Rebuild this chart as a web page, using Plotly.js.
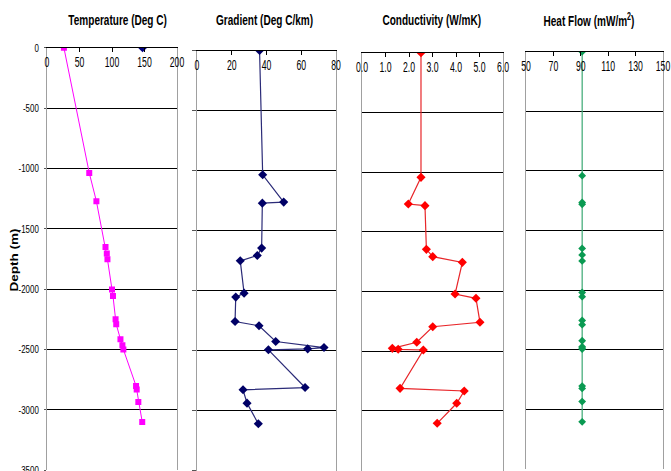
<!DOCTYPE html>
<html>
<head>
<meta charset="utf-8">
<script src="https://cdn.plot.ly/plotly-3.0.1.min.js"></script>
<style>html,body{margin:0;padding:0;background:#fff;}#chart{width:671px;height:471px;}</style>
</head>
<body>
<div id="chart"></div>
<script>
// Temperature log
const tempDepth = [0, -1037, -1272, -1650, -1705, -1752, -2003, -2056, -2250, -2291, -2415, -2465, -2500, -2802, -2832, -2934, -3100];
const tempValue = [26, 65, 76, 90, 92, 93, 100, 101.5, 105.5, 106.5, 113, 116, 117.5, 137, 138, 140.5, 146.5];
// Bottom-hole marker on temperature panel
const bhtDepth = [0];
const bhtValue = [147];
// Gradient
const gradDepth = [0, -1035, -1262, -1271, -1645, -1707, -1751, -2020, -2053, -2256, -2292, -2423, -2473, -2484, -2492, -2806, -2825, -2936, -3108];
const gradValue = [36, 37.8, 49.9, 37.6, 37.2, 34.7, 24.9, 27.1, 22.3, 21.9, 35.7, 45.3, 73.1, 63.7, 41.1, 62.2, 26.5, 28.8, 35.3];
// Conductivity
const condDepth = [0, -1044, -1267, -1281, -1647, -1708, -1756, -2021, -2057, -2258, -2295, -2425, -2476, -2484, -2490, -2811, -2833, -2936, -3104];
const condValue = [2.51, 2.51, 1.97, 2.68, 2.74, 3.01, 4.27, 3.96, 4.85, 5.02, 3.01, 2.33, 1.29, 1.54, 2.61, 1.62, 4.35, 4.03, 3.20];
// Heat flow
const hfDepth = [0, -1040, -1265, -1280, -1650, -1705, -1755, -2020, -2055, -2255, -2290, -2425, -2475, -2485, -2495, -2805, -2825, -2935, -3105];
const hfValue = [91, 91, 91, 91, 91, 91, 91, 91, 91, 91, 91, 91, 91, 91, 91, 91, 91, 91, 91];

// Axis tick labels
const depthTicks = [0, -500, -1000, -1500, -2000, -2500, -3000, -3500];
const depthTickText = ["0", "-500", "-1000", "-1500", "-2000", "-2500", "-3000", "-3500"];
const tempTicks = [0, 50, 100, 150, 200];
const gradTicks = [0, 20, 40, 60, 80];
const condTicks = [0, 1, 2, 3, 4, 5, 6];
const condTickText = ["0.0", "1.0", "2.0", "3.0", "4.0", "5.0", "6.0"];
const hfTicks = [50, 70, 90, 110, 130, 150];

const titles = ["Temperature (Deg C)", "Gradient (Deg C/km)", "Conductivity (W/mK)", "Heat Flow (mW/m<sup>2</sup>)"];
const yTitle = "Depth (m)";

const FONT = "Liberation Sans, Arial, sans-serif";
const W = 671, H = 471;
const px = v => v / W;
const py = v => 1 - v / H;

const traces = [
  {x: tempValue, y: tempDepth, xaxis: 'x', yaxis: 'y', mode: 'lines+markers',
   line: {color: '#FF00FF', width: 1}, marker: {symbol: 'square', size: 6, color: '#FF00FF'}},
  {x: bhtValue, y: bhtDepth, xaxis: 'x', yaxis: 'y', mode: 'markers',
   marker: {symbol: 'diamond', size: 7, color: '#000080'}},
  {x: gradValue, y: gradDepth, xaxis: 'x2', yaxis: 'y2', mode: 'lines+markers',
   line: {color: '#2B2B78', width: 1.2}, marker: {symbol: 'diamond', size: 7, color: '#000066'}},
  {x: condValue, y: condDepth, xaxis: 'x3', yaxis: 'y3', mode: 'lines+markers',
   line: {color: '#E8262A', width: 1.2}, marker: {symbol: 'diamond', size: 7, color: '#FF0000'}},
  {x: hfValue, y: hfDepth, xaxis: 'x4', yaxis: 'y4', mode: 'lines+markers',
   line: {color: '#3BA873', width: 1.2}, marker: {symbol: 'diamond', size: 6, color: '#0A9A52'}}
];

const panels = [
  {x: [47, 177], y: [47.7, 470.2], range: [0, 200], vals: tempTicks, text: tempTicks.map(String)},
  {x: [197, 336], y: [50.5, 470.9], range: [0, 80], vals: gradTicks, text: gradTicks.map(String)},
  {x: [362, 503], y: [52.7, 470.6], range: [0, 6], vals: condTicks, text: condTickText},
  {x: [526, 663], y: [51.7, 468.9], range: [50, 150], vals: hfTicks, text: hfTicks.map(String)}
];

const layout = {
  width: W, height: H,
  margin: {l: 0, r: 0, t: 0, b: 0},
  paper_bgcolor: '#fff', plot_bgcolor: '#fff',
  showlegend: false,
  font: {family: FONT, size: 12, color: '#000'},
  annotations: []
};

const titleCenters = [117, 264, 432, 589];
panels.forEach((p, i) => {
  const n = i === 0 ? '' : String(i + 1);
  layout['xaxis' + n] = {
    domain: [px(p.x[0]), px(p.x[1])],
    anchor: 'y' + n,
    side: 'top',
    range: p.range, tickmode: 'array', tickvals: p.vals, ticktext: p.text,
    showgrid: false, zeroline: false,
    showline: true, linecolor: '#000', linewidth: 1,
    ticks: 'inside', ticklen: 4, tickcolor: '#000',
    ticklabelposition: 'inside', ticklabeloverflow: 'allow',
    ticklabelstandoff: 5,
    tickfont: {family: FONT, size: 14.5, color: '#000'},
    fixedrange: true
  };
  layout['yaxis' + n] = {
    domain: [py(p.y[1]), py(p.y[0])],
    anchor: 'x' + n,
    range: [-3500, 0], tickmode: 'array', tickvals: depthTicks, ticktext: depthTickText,
    showgrid: true, gridcolor: '#000', gridwidth: 1,
    zeroline: false,
    showline: true, mirror: true, linecolor: '#A0A0A0', linewidth: 1,
    showticklabels: i === 0,
    ticks: (i === 0 || i === 1) ? 'outside' : '',
    ticklen: i === 0 ? 2 : 4, tickcolor: '#555',
    ticklabelstandoff: 3, ticklabeloverflow: 'allow',
    tickfont: {family: FONT, size: 11, color: '#000'},
    fixedrange: true
  };
  layout.annotations.push({
    text: '<b>' + titles[i] + '</b>', xref: 'paper', yref: 'paper',
    x: px(titleCenters[i]), y: py(20), xanchor: 'center', yanchor: 'middle',
    showarrow: false, font: {family: FONT, size: 15, color: '#000'}
  });
});

layout.annotations.push({
  text: '<b>' + yTitle + '</b>', xref: 'paper', yref: 'paper',
  x: px(13.5), y: py(260), xanchor: 'center', yanchor: 'middle', textangle: -90,
  showarrow: false, font: {family: FONT, size: 13.5, color: '#000'}
});

// The reference text is horizontally condensed; squeeze glyphs about their anchor.
function squeezeX(el, k) {
  const x = parseFloat(el.getAttribute('x')) || 0;
  const tr = el.getAttribute('transform') || '';
  el.setAttribute('transform', (tr + ' translate(' + x + ',0) scale(' + k + ',1) translate(' + (-x) + ',0)').trim());
}
function squeezeY(el, k) {
  const y = parseFloat(el.getAttribute('y')) || 0;
  const tr = el.getAttribute('transform') || '';
  el.setAttribute('transform', (tr + ' translate(0,' + y + ') scale(1,' + k + ') translate(0,' + (-y) + ')').trim());
}

Plotly.newPlot('chart', traces, layout, {displayModeBar: false, staticPlot: true}).then(gd => {
  gd.querySelectorAll('g.xtick text, g.x2tick text, g.x3tick text, g.x4tick text').forEach(t => squeezeX(t, 0.6));
  gd.querySelectorAll('g.ytick text').forEach(t => squeezeX(t, 0.72));
  const ann = gd.querySelectorAll('.annotation-text');
  ann.forEach((t, i) => {
    if (i < ann.length - 1) squeezeX(t, 0.67);
    else squeezeY(t, 0.75);
  });
});
</script>
</body>
</html>
